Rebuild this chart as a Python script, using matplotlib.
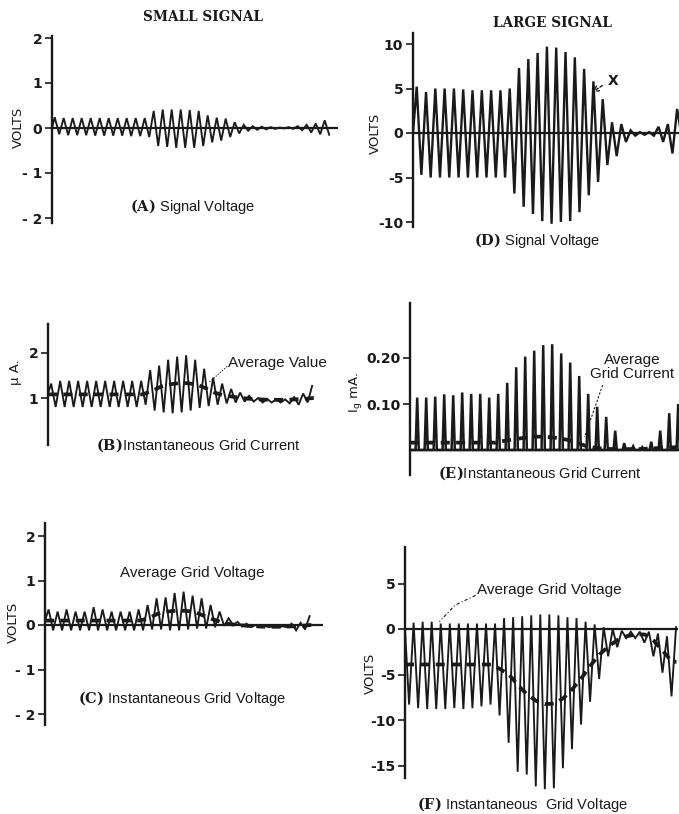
import matplotlib.pyplot as plt
import numpy as np

W, H = 679, 814
INK = "#1a1a1a"

# (A) small signal voltage, volts: positive and negative swing of each cycle
a_peak = [0.24, 0.22, 0.22, 0.22, 0.22, 0.22, 0.22, 0.22, 0.22, 0.22, 0.22,
          0.38, 0.41, 0.41, 0.41, 0.40, 0.38,
          0.28, 0.23, 0.21, 0.13, 0.07, 0.04, 0.03,
          0.02, 0.01, 0.02, 0.04, 0.07, 0.10, 0.17]
a_trough = [-0.14, -0.16, -0.16, -0.16, -0.17, -0.17, -0.17, -0.17, -0.18, -0.18, -0.20,
            -0.40, -0.42, -0.44, -0.44, -0.44, -0.40,
            -0.32, -0.28, -0.20, -0.12, -0.06, -0.04, -0.03,
            -0.02, -0.01, -0.02, -0.05, -0.10, -0.14, -0.15]

# (D) large signal voltage, volts
d_peak = [5.2, 4.6, 5.0, 5.0, 5.0, 4.9, 4.8, 4.8, 4.8, 4.8, 5.0,
          7.3, 8.3, 9.0, 9.7, 9.6, 9.1, 8.5, 7.2, 5.8, 3.8,
          1.2, 1.0, 0.3, 0.1, 0.1, 0.7, 1.0, 2.7]
d_trough = [-4.7, -5.0, -5.0, -5.0, -5.0, -5.0, -5.0, -5.0, -5.0, -5.0,
            -6.8, -8.3, -9.1, -9.9, -10.2, -10.0, -9.9, -8.9, -7.0, -5.5, -3.6,
            -2.6, -1.0, -0.3, -0.2, -0.3, -1.0, -2.3, -0.5]

# (B) small signal grid current, microamps
b_peak = [1.32, 1.38, 1.38, 1.38, 1.38, 1.38, 1.38, 1.38, 1.38, 1.38, 1.38,
          1.62, 1.72, 1.85, 1.92, 1.95, 1.85,
          1.65, 1.45, 1.32, 1.20, 1.12, 1.05, 1.00,
          0.98, 0.97, 0.97, 1.02, 1.10, 1.27]
b_trough = [0.80, 0.80, 0.80, 0.80, 0.80, 0.80, 0.80, 0.80, 0.80, 0.80, 0.85,
            0.72, 0.68, 0.66, 0.68, 0.72, 0.78,
            0.82, 0.85, 0.88, 0.90, 0.92, 0.92, 0.90,
            0.90, 0.90, 0.88, 0.85, 0.90]
b_avg = [1.08, 1.08, 1.08, 1.08, 1.08, 1.08, 1.08, 1.08, 1.08, 1.08, 1.08,
         1.15, 1.25, 1.30, 1.33, 1.33, 1.30,
         1.22, 1.12, 1.06, 1.03, 1.00, 0.98, 0.97,
         0.96, 0.96, 0.96, 0.97, 0.98, 1.00]

# (E) large signal grid current, mA: spike height each cycle and average
e_spike = [0.114, 0.114, 0.116, 0.121, 0.119, 0.125, 0.122, 0.122, 0.114, 0.122,
           0.146, 0.180, 0.203, 0.216, 0.228, 0.230, 0.210, 0.190, 0.161, 0.122,
           0.094, 0.072, 0.042, 0.015, 0.008, 0.006, 0.018, 0.042, 0.080, 0.100]
e_avg = [0.016, 0.016, 0.016, 0.016, 0.016, 0.016, 0.016, 0.016, 0.016, 0.016,
         0.020, 0.023, 0.026, 0.029, 0.029, 0.028, 0.026, 0.022, 0.016, 0.009,
         0.005, 0.003, 0.002, 0.002, 0.002, 0.002, 0.003, 0.004, 0.005, 0.006]

# (C) small signal grid voltage, volts
c_peak = [0.35, 0.30, 0.35, 0.30, 0.30, 0.40, 0.35, 0.30, 0.30, 0.30, 0.35,
          0.45, 0.60, 0.62, 0.72, 0.75, 0.66, 0.60, 0.45, 0.30, 0.15,
          0.07, 0.03, 0.00, -0.02, -0.03, -0.03, 0.03, 0.05, 0.20]
c_trough = [-0.12, -0.12, -0.12, -0.12, -0.12, -0.12, -0.12, -0.12, -0.12, -0.12, -0.12,
            -0.10, -0.10, -0.12, -0.12, -0.10, -0.08, -0.08, -0.05, -0.02, 0.00,
            -0.03, -0.05, -0.05, -0.05, -0.05, -0.05, -0.12, -0.10]
c_avg = [0.10, 0.10, 0.10, 0.10, 0.10, 0.10, 0.10, 0.10, 0.10, 0.10, 0.10,
         0.15, 0.25, 0.30, 0.32, 0.32, 0.30, 0.22, 0.14, 0.07, 0.02,
         0.00, -0.02, -0.03, -0.04, -0.04, -0.04, -0.03, -0.02, 0.00]

# (F) large signal grid voltage, volts (negative swing comes first)
f_trough = [-8.3, -8.7, -8.8, -8.8, -8.8, -8.7, -8.8, -8.7, -8.5, -8.3,
            -9.5, -12.5, -15.7, -16.0, -17.3, -17.6, -17.5, -15.3, -13.2, -10.5,
            -8.0, -5.5, -3.0, -2.0, -1.0, -1.0, -1.5, -3.0, -4.8, -7.4]
f_peak = [0.7, 0.8, 0.8, 0.6, 0.6, 0.6, 0.6, 0.6, 0.6, 0.6,
          1.2, 1.3, 1.4, 1.5, 1.6, 1.6, 1.5, 1.3, 1.2, 0.8,
          0.5, 0.2, 0.0, -0.2, -0.3, -0.3, -0.3, -0.5, -0.8, 0.2]
f_avg = [-3.9, -3.9, -3.9, -3.9, -3.9, -3.9, -3.9, -3.9, -3.9, -3.9,
         -4.4, -5.0, -6.2, -7.2, -7.9, -8.25, -8.2, -7.6, -6.6, -5.4,
         -4.0, -2.8, -1.9, -1.2, -0.8, -0.6, -0.6, -1.3, -2.4, -3.6]

plt.rcParams["font.family"] = ["Liberation Sans", "DejaVu Sans"]
plt.rcParams["mathtext.fontset"] = "dejavuserif"

fig = plt.figure(figsize=(W / 100, H / 100), dpi=100)


def px(x, y):
    return x / W, 1 - y / H


def panel(x0, y0, ppx, ppy, xlim, ylim, bounds, ticks, labels):
    """Axes whose data origin sits at pixel (x0, y0)."""
    left = (x0 + xlim[0] * ppx) / W
    bottom = 1 - (y0 - ylim[0] * ppy) / H
    ax = fig.add_axes([left, bottom, (xlim[1] - xlim[0]) * ppx / W,
                       (ylim[1] - ylim[0]) * ppy / H])
    ax.set_xlim(xlim)
    ax.set_ylim(ylim)
    ax.patch.set_alpha(0)
    for s in ("top", "right", "bottom"):
        ax.spines[s].set_visible(False)
    ax.spines["left"].set_bounds(*bounds)
    ax.spines["left"].set_linewidth(1.7)
    ax.spines["left"].set_color(INK)
    ax.set_xticks([])
    ax.set_yticks(ticks, labels, fontweight="bold", fontsize=10,
                  family="DejaVu Sans", color=INK)
    ax.tick_params(axis="y", direction="out", length=5, width=1.2, pad=2, color=INK)
    return ax


def zigzag(first, second, phase, start):
    pts = np.empty(len(first) + len(second))
    pts[0::2] = first
    pts[1::2] = second
    xs = phase + 0.5 * np.arange(len(pts))
    return np.r_[0, xs], np.r_[start, pts]


def avg_line(ax, avg):
    n = len(avg)
    xs = np.r_[0, np.arange(n) + 0.5, n]
    ys = np.r_[avg[0], avg, avg[-1]]
    ax.plot(xs, ys, color=INK, lw=2.7, linestyle=(0, (2.4, 1.7)), solid_capstyle="butt")


def wave(ax, x, y, lw=1.35):
    ax.plot(x, y, color=INK, lw=lw, solid_joinstyle="miter")


# ---- (A)
axA = panel(52, 128, 9, 45, (0, 32), (-2.3, 2.3), (-2.1, 2.05),
            [-2, -1, 0, 1, 2], ["- 2", "- 1", "0", "1", "2"])
axA.hlines(0, 0, 31.8, color=INK, lw=1.6)
wave(axA, *zigzag(a_peak, a_trough, 0.3, 0.0))

# ---- (D)
axD = panel(413, 133, 9.3, 8.9, (0, 28.6), (-11.5, 12), (-10.6, 11.2),
            [-10, -5, 0, 5, 10], ["-10", "-5", "0", "5", "10"])
axD.hlines(0, 0, 28.6, color=INK, lw=1.6)
wave(axD, *zigzag(d_peak, d_trough, 0.4, 0.0), lw=1.7)
axD.annotate("", xy=(19.0, 4.4), xytext=(20.6, 5.5),
             arrowprops=dict(arrowstyle="->", lw=1.0, color=INK, linestyle=(0, (2, 1.5))))
axD.text(21.5, 5.8, "X", fontsize=10, fontweight="bold", family="DejaVu Sans",
         ha="center", va="center", color=INK)

# ---- (B)
axB = panel(48, 443, 9, 45, (0, 31), (-0.1, 2.7), (-0.05, 2.64),
            [1, 2], ["1", "2"])
wave(axB, *zigzag(b_peak, b_trough, 0.35, 1.1))
avg_line(axB, b_avg)
axB.plot([19.9, 17.9], [1.7, 1.35], color=INK, lw=0.8, linestyle=(0, (1, 1.5)))

# ---- (E)
axE = panel(410, 450, 9, 460, (0, 29.95), (-0.06, 0.33), (-0.054, 0.32),
            [0.10, 0.20], ["0.10", "0.20"])
axE.hlines(0, 0, 29.95, color=INK, lw=1.7)
k = np.arange(len(e_spike))
sx = np.column_stack([k + 0.62, k + 0.8, k + 0.98]).ravel()
sy = np.column_stack([np.zeros(len(k)), e_spike, np.zeros(len(k))]).ravel()
wave(axE, np.r_[0, sx], np.r_[0, sy], lw=1.8)
avg_line(axE, e_avg)
axE.plot([21.4, 19.4], [0.141, 0.028], color=INK, lw=0.8, linestyle=(0, (2, 1.5)))

# ---- (C)
axC = panel(45, 625, 9, 44.5, (0, 31.5), (-2.4, 2.4), (-2.25, 2.3),
            [-2, -1, 0, 1, 2], ["- 2", "- 1", "0", "1", "2"])
axC.hlines(0, 0, 30.9, color=INK, lw=1.6)
wave(axC, *zigzag(c_peak, c_trough, 0.4, 0.1))
avg_line(axC, c_avg)

# ---- (F)
axF = panel(405, 629, 9.05, 9.1, (0, 30.2), (-18.5, 9.5), (-16.4, 9.0),
            [-15, -10, -5, 0, 5], ["-15", "-10", "-5", "0", "5"])
axF.hlines(0, 0, 30.2, color=INK, lw=1.6)
wave(axF, *zigzag(f_trough, f_peak, 0.45, 0.0))
avg_line(axF, f_avg)
axF.plot([7.8, 5.5, 3.8], [3.7, 2.6, 0.8], color=INK, lw=0.8,
         linestyle=(0, (3, 2, 1, 2)))

# ---- titles, axis names and captions
serif = dict(family="DejaVu Serif", fontweight="bold", fontsize=9.8, color=INK,
             ha="center", va="center")
fig.text(*px(203, 17), "SMALL SIGNAL", **serif)
fig.text(*px(552, 23), "LARGE SIGNAL", **serif)

side = dict(family="DejaVu Sans", fontsize=9.5, rotation=90, ha="center",
            va="center", color=INK)
fig.text(*px(18, 127), "VOLTS", **side)
fig.text(*px(375, 133), "VOLTS", **side)
fig.text(*px(13, 622), "VOLTS", **side)
fig.text(*px(370, 673), "VOLTS", **side)
fig.text(*px(15, 372), "μ A.", **side)
fig.text(*px(355, 392), r"I$_\mathregular{g}$ mA.", **side)

cap = dict(fontsize=10.5, ha="center", va="center", color=INK)
fig.text(*px(192, 207), r"$\mathbf{(A)}$ Signal Voltage", **cap)
fig.text(*px(537, 241), r"$\mathbf{(D)}$ Signal Voltage", **cap)
fig.text(*px(198, 445), r"$\mathbf{(B)}$Instantaneous Grid Current", **cap)
fig.text(*px(540, 473), r"$\mathbf{(E)}$Instantaneous Grid Current", **cap)
fig.text(*px(182, 698), r"$\mathbf{(C)}$ Instantaneous Grid Voltage", **cap)
fig.text(*px(522, 804), r"$\mathbf{(F)}$ Instantaneous  Grid Voltage", **cap)

note = dict(fontsize=11, va="center", color=INK)
fig.text(*px(228, 363), "Average Value", ha="left", **note)
fig.text(*px(632, 367), "Average\nGrid Current", ha="center", linespacing=0.95, **note)
fig.text(*px(192, 573), "Average Grid Voltage", ha="center", **note)
fig.text(*px(477, 590), "Average Grid Voltage", ha="left", **note)

fig.savefig("out.png", dpi=100, facecolor="white")
